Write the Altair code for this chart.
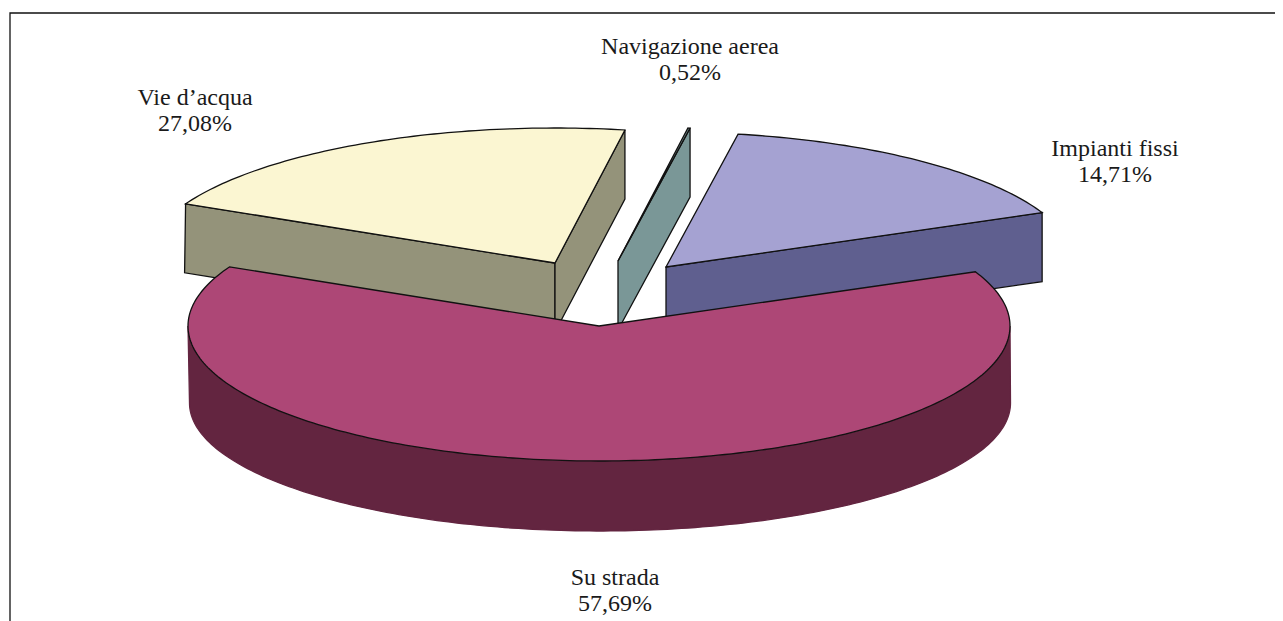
import math
import altair as alt

# --- chart values ---
names = ["Su strada", "Vie d\u2019acqua", "Navigazione aerea", "Impianti fissi"]
shares = [57.69, 27.08, 0.52, 14.71]

# --- 3D look of the pie (styling and layout only) ---
top_colors = ["#AD4776", "#FBF6D2", "#7A9797", "#A5A2D2"]
wall_colors = ["#632540", "#94937A", "#7A9797", "#5F5F8F"]
foreshorten = [1.106, 0.757, 0.16, 1.06]   # apparent sweep / true sweep
apex_offset = [(0, 0), (-44, -63), (19, -65), (67, -59)]
wall_slant = [0, -1, 0, 0]                  # perspective lean of the outer wall edge
label_xy = [(615, 578), (195, 98), (690, 47), (1115, 149)]
draw_order = [3, 1, 2, 0]
W, H = 1267, 613
PAGE = 8
CX, CY, A, B, DEPTH = 599, 326, 411, 135, 69
FLOOR_DX, FLOOR_DY, FLOOR_A, FLOOR_B = 1, 77, 410.5, 128
START = 23.7


def page(x, y):
    return [round(x - PAGE, 2), round(y - PAGE, 2)]


def rim(c, t):
    r = math.radians(t)
    return (c[0] + A * math.cos(r), c[1] - B * math.sin(r))


def floor_rim(c, t):
    r = math.radians(t)
    return (c[0] + FLOOR_DX + FLOOR_A * math.cos(r), c[1] + FLOOR_DY - FLOOR_B * math.sin(r))


def feature(points, fill, stroke):
    pts = [page(*p) for p in points]
    pts.append(pts[0])
    return {
        "type": "Feature",
        "properties": {"fill": fill, "stroke": stroke},
        "geometry": {"type": "Polygon", "coordinates": [pts]},
    }


def arc_angles(t0, t1):
    n = max(2, int(abs(t1 - t0)) + 1)
    return [t0 + (t1 - t0) * i / n for i in range(n + 1)]


def drop(p, dx=0):
    return (p[0] + dx, p[1] + DEPTH)


sweeps = [s * 3.6 * f for s, f in zip(shares, foreshorten)]
starts = []
angle = START
for sw in sweeps:
    starts.append(angle)
    angle -= sw

features = []
for i in draw_order:
    t0, t1 = starts[i], starts[i] - sweeps[i]
    c = (CX + apex_offset[i][0], CY + apex_offset[i][1])
    wall = wall_colors[i]
    if math.cos(math.radians(t0)) < 0:
        p = rim(c, t0)
        features.append(feature([c, p, drop(p, wall_slant[i]), drop(c)], wall, "#111111"))
    if math.cos(math.radians(t1)) > 0:
        p = rim(c, t1)
        features.append(feature([c, p, drop(p), drop(c)], wall, "#111111"))
    lo, hi = max(t1, -180), min(t0, 0)
    if hi > lo:
        angles = arc_angles(hi, lo)
        edge = [rim(c, t) for t in angles]
        base = [floor_rim(c, t) for t in reversed(angles)]
        features.append(feature(edge + base, wall, wall))
    outline = [c] + [rim(c, t) for t in arc_angles(t0, t1)]
    features.append(feature(outline, top_colors[i], "#111111"))

frame = feature([(10, 13), (1320, 13), (1320, 660), (10, 660)], "#FFFFFF", "#111111")

pie = (
    alt.Chart(alt.Data(values=[frame] + features))
    .mark_geoshape(strokeWidth=1.3, strokeJoin="miter")
    .encode(
        fill=alt.Color("properties.fill:N", scale=None),
        stroke=alt.Stroke("properties.stroke:N", scale=None),
    )
    .project(type="identity", scale=1, translate=[0, 0])
)

labels = [f"{n}\n{s:.2f}%".replace(".", ",") for n, s in zip(names, shares)]
label_rows = [
    {"label": t, "x": x - PAGE, "y": y - PAGE} for t, (x, y) in zip(labels, label_xy)
]
text = (
    alt.Chart(alt.Data(values=label_rows))
    .mark_text(font="Liberation Serif", fontSize=24, lineBreak="\n", lineHeight=26, color="#1a1a1a")
    .encode(
        x=alt.X("x:Q", scale=alt.Scale(domain=[0, W], range=[0, W]), axis=None),
        y=alt.Y("y:Q", scale=alt.Scale(domain=[0, H], range=[0, H]), axis=None),
        text="label:N",
    )
)

chart = (
    alt.layer(pie, text)
    .properties(width=W, height=H, padding=0, autosize=alt.AutoSizeParams(type="none"), background="white")
    .configure_view(stroke=None)
)
chart.save("out.html", embed_options={"renderer": "svg", "actions": False})
